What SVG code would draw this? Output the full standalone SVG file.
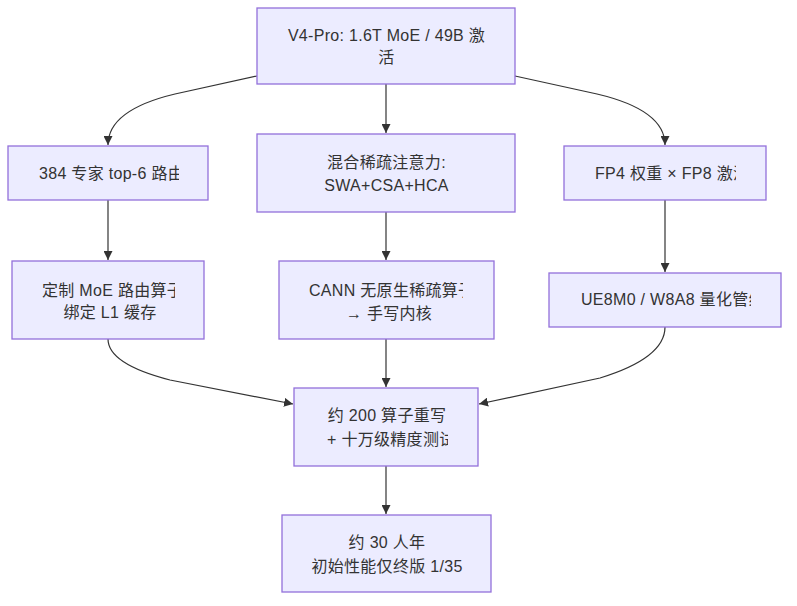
<svg xmlns="http://www.w3.org/2000/svg" width="797" height="606" viewBox="0 0 797 606">
<style>
.node rect{fill:#ECECFF;stroke:#9370DB;stroke-width:1.3}
.node text{font-family:"Liberation Sans","Noto Sans CJK SC",sans-serif;font-size:16px;fill:#333;letter-spacing:0.3px}
.c{text-anchor:middle}
.edge{fill:none;stroke:#333;stroke-width:1.2}
</style>
<defs>
<marker id="ah" viewBox="0 0 10 10" refX="10" refY="5" markerWidth="9" markerHeight="9" markerUnits="userSpaceOnUse" orient="auto">
<path d="M0,0 L10,5 L0,10 z" fill="#333"/>
</marker>
<clipPath id="cA"><rect x="38" y="140" width="141" height="60"/></clipPath>
<clipPath id="cB"><rect x="595" y="140" width="141" height="60"/></clipPath>
<clipPath id="cC"><rect x="42" y="262" width="133" height="76"/></clipPath>
<clipPath id="cD"><rect x="309" y="262" width="154" height="76"/></clipPath>
<clipPath id="cE"><rect x="580" y="274" width="171" height="52"/></clipPath>
<clipPath id="cF"><rect x="327" y="389" width="121" height="76"/></clipPath>
</defs>
<g id="edges">
<path class="edge" d="M257,76 L175,94 Q108,110 108,145" marker-end="url(#ah)"/>
<path class="edge" d="M386,84 L386,133" marker-end="url(#ah)"/>
<path class="edge" d="M515,76 L597,94 Q665,110 665,145" marker-end="url(#ah)"/>
<path class="edge" d="M108,200 L108,260" marker-end="url(#ah)"/>
<path class="edge" d="M386,212 L386,260" marker-end="url(#ah)"/>
<path class="edge" d="M665,200 L665,272" marker-end="url(#ah)"/>
<path class="edge" d="M108,339 Q108,364 170,380 L293,404" marker-end="url(#ah)"/>
<path class="edge" d="M386,339 L386,387" marker-end="url(#ah)"/>
<path class="edge" d="M665,327 Q665,358 600,378 L479,404" marker-end="url(#ah)"/>
<path class="edge" d="M386,466 L386,514" marker-end="url(#ah)"/>
</g>
<g id="n_top" class="node">
<rect x="257" y="8" width="258" height="76"/>
<text class="c" x="386.5" y="41">V4-Pro: 1.6T MoE / 49B 激</text>
<text class="c" x="386.5" y="63">活</text>
</g>
<g id="n_experts" class="node">
<rect x="8" y="146" width="200" height="54"/>
<text x="39" y="179" clip-path="url(#cA)">384 专家 top-6 路由</text>
</g>
<g id="n_attn" class="node">
<rect x="257" y="134" width="258" height="78"/>
<text class="c" x="386.5" y="168">混合稀疏注意力:</text>
<text class="c" x="386.5" y="191">SWA+CSA+HCA</text>
</g>
<g id="n_fp4" class="node">
<rect x="564" y="146" width="202" height="54"/>
<text x="595" y="179" clip-path="url(#cB)">FP4 权重 × FP8 激活</text>
</g>
<g id="n_moe_op" class="node">
<rect x="12" y="261" width="192" height="78"/>
<text x="42" y="296" clip-path="url(#cC)">定制 MoE 路由算子</text>
<text class="c" x="110" y="318">绑定 L1 缓存</text>
</g>
<g id="n_cann" class="node">
<rect x="279" y="261" width="215" height="78"/>
<text x="309" y="296" clip-path="url(#cD)">CANN 无原生稀疏算子</text>
<text class="c" x="389" y="319">→ 手写内核</text>
</g>
<g id="n_quant" class="node">
<rect x="549" y="273" width="232" height="54"/>
<text x="581" y="305" clip-path="url(#cE)">UE8M0 / W8A8 量化管线</text>
</g>
<g id="n_rewrite" class="node">
<rect x="294" y="388" width="184" height="78"/>
<text class="c" x="387" y="421">约 200 算子重写</text>
<text x="327" y="445" clip-path="url(#cF)">+ 十万级精度测试</text>
</g>
<g id="n_result" class="node">
<rect x="282" y="515" width="209" height="77"/>
<text class="c" x="387" y="548">约 30 人年</text>
<text class="c" x="387" y="572">初始性能仅终版 1/35</text>
</g>
</svg>
